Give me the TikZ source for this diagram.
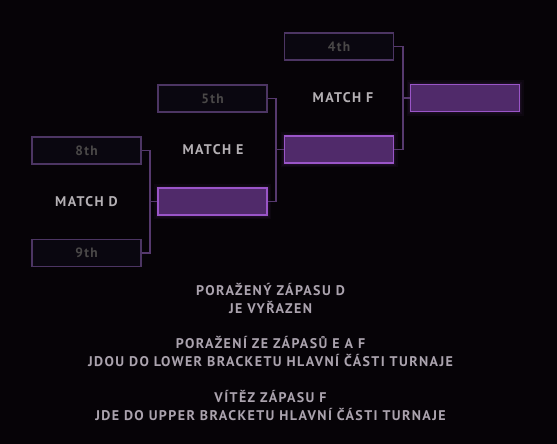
\documentclass[tikz,border=0pt]{standalone}
\usepackage{fontspec}
\setmainfont{PT Sans}
\newfontfamily\spaced[LetterSpace=10]{PT Sans}
\definecolor{bg}{HTML}{060307}
\definecolor{emptyline}{HTML}{4C3563}
\definecolor{emptyfill}{HTML}{0A0710}
\definecolor{winfill}{HTML}{502A6A}
\definecolor{winline}{HTML}{9A55C8}
\definecolor{conn}{HTML}{56396E}
\definecolor{seedtxt}{HTML}{4A4848}
\definecolor{labtxt}{HTML}{B4B0B4}
\definecolor{infotxt}{HTML}{ABA3AE}
\tikzset{
  seedbox/.style={draw=emptyline, fill=emptyfill, line width=1.3pt, minimum width=109pt, minimum height=27pt, inner sep=0pt, text=seedtxt, font=\spaced\bfseries\fontsize{13.5}{15}\selectfont},
  winbox/.style={draw=winline, fill=winfill, line width=1.5pt, minimum width=109pt, minimum height=27pt, inner sep=0pt},
  glow/.style={draw=winline, line width=#1, opacity=0.05, minimum width=109pt, minimum height=27pt, inner sep=0pt},
  matchlab/.style={text=labtxt, font=\spaced\bfseries\fontsize{14}{16}\selectfont},
  info/.style={text=infotxt, font=\spaced\bfseries\fontsize{14}{18}\selectfont, align=center},
  wire/.style={draw=conn, line width=1.2pt}
}
\begin{document}
\begin{tikzpicture}[x=1pt,y=-1pt]
\fill[bg] (0,0) rectangle (557,444);
\useasboundingbox (0,0) rectangle (557,444);
% seed boxes
\node[seedbox] (s8) at (86.5,150.5) {8th};
\node[seedbox] (s9) at (86.5,253) {9th};
\node[seedbox] (s5) at (212.5,98.5) {5th};
\node[seedbox] (s4) at (339,46.5) {4th};
% glows
\foreach \p in {(212.5,201.5),(339,149.5),(465,98)}{
  \node[glow=8pt] at \p {};
  \node[glow=5pt] at \p {};
  \node[glow=3pt] at \p {};
}
% winner boxes
\node[winbox] (wd) at (212.5,201.5) {};
\node[winbox] (we) at (339,149.5) {};
\node[winbox] (wf) at (465,98) {};
% match labels
\node[matchlab] (md) at (86.5,202) {MATCH D};
\node[matchlab] (me) at (213,150) {MATCH E};
\node[matchlab] (mf) at (343,98) {MATCH F};
% connectors
\coordinate (jd) at (150,201.5);
\coordinate (je) at (276,149.5);
\coordinate (jf) at (403,98);
\draw[wire] (s8.east) -| (jd) |- (s9.east);
\draw[wire] (jd) -- (wd.west);
\draw[wire] (s5.east) -| (je) |- (wd.east);
\draw[wire] (je) -- (we.west);
\draw[wire] (s4.east) -| (jf) |- (we.east);
\draw[wire] (jf) -- (wf.west);
% info text
\node[info] (t1) at (270.5,298) {PORAŽENÝ ZÁPASU D\\JE VYŘAZEN};
\node[info] (t2) at (270.5,351.5) {PORAŽENÍ ZE ZÁPASŮ E A F\\JDOU DO LOWER BRACKETU HLAVNÍ ČÁSTI TURNAJE};
\node[info] (t3) at (270.5,405.5) {VÍTĚZ ZÁPASU F\\JDE DO UPPER BRACKETU HLAVNÍ ČÁSTI TURNAJE};
\end{tikzpicture}
\end{document}
